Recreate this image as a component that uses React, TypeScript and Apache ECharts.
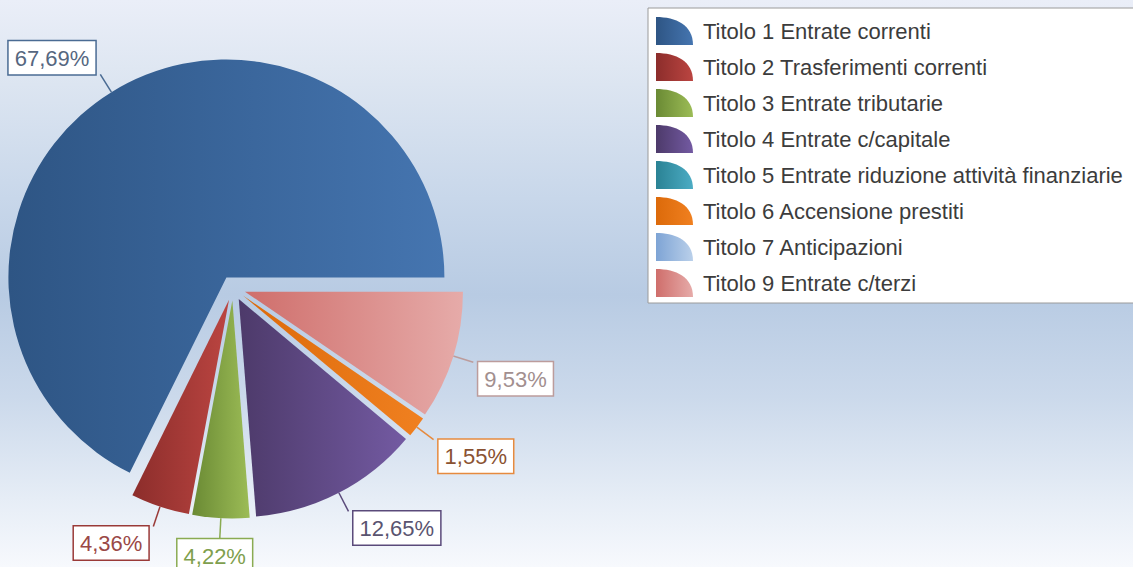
import React, { useEffect, useRef } from "react";
import * as echarts from "echarts";

const categories = [
  "Titolo 1 Entrate correnti",
  "Titolo 2 Trasferimenti correnti",
  "Titolo 3 Entrate tributarie",
  "Titolo 4 Entrate c/capitale",
  "Titolo 5 Entrate riduzione attività finanziarie",
  "Titolo 6 Accensione prestiti",
  "Titolo 7 Anticipazioni",
  "Titolo 9 Entrate c/terzi",
];
const values = [67.69, 4.36, 4.22, 12.65, 0, 1.55, 0, 9.53];

const gradStops = [
  ["#2e5584", "#4575b0"],
  ["#8c2d2b", "#bb4541"],
  ["#6a8a34", "#9cbc56"],
  ["#4d3a6a", "#735aa2"],
  ["#2a8294", "#4cacc4"],
  ["#dc6a0a", "#f08020"],
  ["#7ea4d5", "#bad0ea"],
  ["#cf6e6b", "#e6aba9"],
];
const labelText = ["#56677f", "#9a4846", "#7f9f4e", "#5a5470", "#2a8294", "#8a5232", "#7ea4d5", "#a28f8f"];
const labelBorder = ["#4a6b93", "#9a3a38", "#8aab52", "#5a4a7a", "#2a8294", "#e68a3e", "#7ea4d5", "#bc9c9c"];

const FONT = "'Liberation Sans', Arial, sans-serif";
const LINE = 21;

export default function App() {
  const ref = useRef<HTMLDivElement>(null);
  useEffect(() => {
    if (!ref.current) return;
    const chart = echarts.init(ref.current, undefined, { renderer: "svg" });
    const data = categories.map((name, i) => {
      const zero = values[i] === 0;
      return {
        name,
        value: values[i],
        selected: !zero,
        itemStyle: {
          color: {
            type: "linear",
            x: 0,
            y: 0,
            x2: 1,
            y2: 0,
            colorStops: [
              { offset: 0, color: gradStops[i][0] },
              { offset: 1, color: gradStops[i][1] },
            ],
          },
        },
        label: zero
          ? { show: false }
          : { color: labelText[i], borderColor: labelBorder[i] },
        labelLine: zero
          ? { show: false }
          : { lineStyle: { color: labelBorder[i] } },
      };
    });
    chart.setOption({
      animation: false,
      legend: {
        orient: "vertical",
        left: 648,
        top: 8,
        padding: [9, 60, 6, 8],
        backgroundColor: "#ffffff",
        borderColor: "#9a9a9a",
        borderWidth: 1,
        itemWidth: 37,
        itemHeight: 28,
        itemGap: 8,
        icon: "path://M0 0 C20 0 37 8 37 28 L0 28 Z",
        selectedMode: false,
        textStyle: {
          fontFamily: FONT,
          fontSize: 22,
          color: "#3c3c3c",
          padding: [0, 0, 0, 5],
        },
        data: categories,
      },
      series: [
        {
          type: "pie",
          center: [233, 288],
          radius: 218,
          startAngle: 0,
          clockwise: false,
          selectedMode: "multiple",
          selectedOffset: 12.5,
          avoidLabelOverlap: false,
          emphasis: { scale: false },
          itemStyle: { borderWidth: 0 },
          label: {
            show: true,
            position: "outside",
            fontFamily: FONT,
            fontSize: 22,
            lineHeight: 24,
            backgroundColor: "#ffffff",
            borderWidth: 1.5,
            padding: [5, 6, 4, 6],
            formatter: (p: any) => p.value.toFixed(2).replace(".", ",") + "%",
          },
          labelLine: {
            show: true,
            length: LINE,
            length2: 0,
            lineStyle: { width: 1.5 },
          },
          labelLayout: (p: any) => {
            const pts = p.labelLinePoints;
            if (!pts) return {};
            const a = pts[0];
            const b = pts[1];
            const dx = b[0] - a[0];
            const dy = b[1] - a[1];
            const len = Math.hypot(dx, dy) || 1;
            const ux = dx / len;
            const uy = dy / len;
            const ex = a[0] + ux * LINE;
            const ey = a[1] + uy * LINE;
            return {
              x: ex,
              y: ey,
              align: ux > 0.3 ? "left" : ux < -0.3 ? "right" : "center",
              verticalAlign: uy > 0.2 ? "top" : uy < -0.2 ? "bottom" : "middle",
              labelLinePoints: [a, [ex, ey], [ex, ey]],
            };
          },
          data,
        },
      ],
    });
    return () => chart.dispose();
  }, []);
  return (
    <div
      ref={ref}
      style={{
        position: "absolute",
        left: 0,
        top: 0,
        width: 1133,
        height: 567,
        overflow: "hidden",
        background:
          "linear-gradient(to bottom, #eaeef8 0%, #dfe7f2 12%, #c8d7ea 35%, #b8cbe3 52%, #cbd9eb 70%, #e6edf6 88%, #f7f9fd 100%)",
      }}
    />
  );
}
